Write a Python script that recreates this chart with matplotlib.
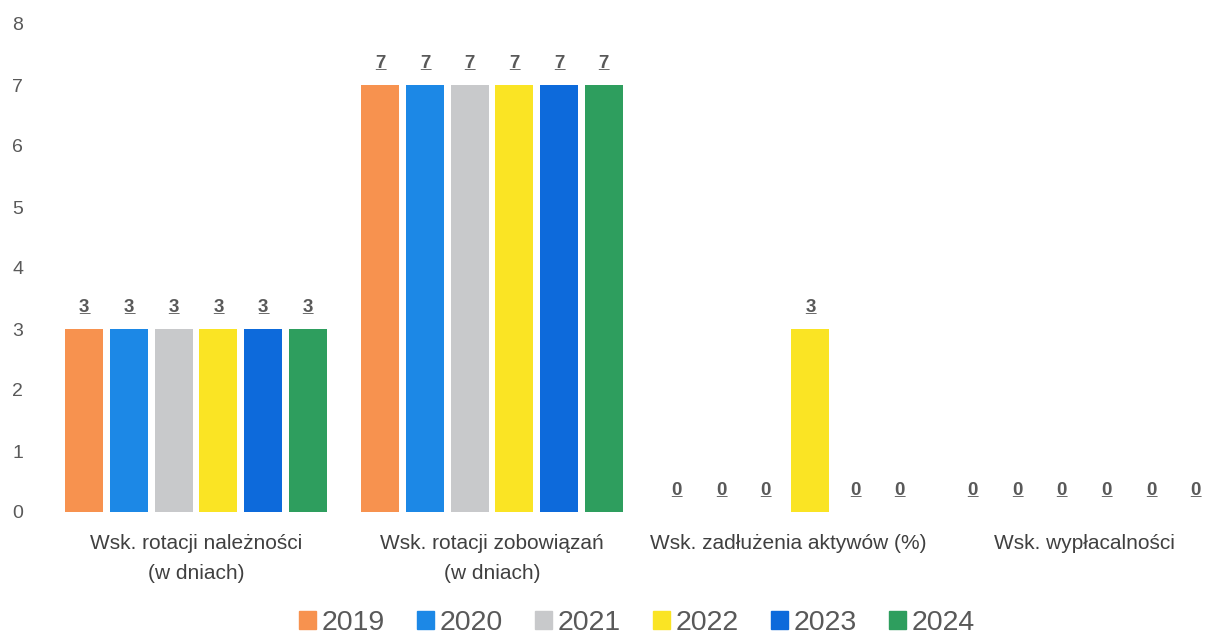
import matplotlib
matplotlib.use("Agg")
import matplotlib.pyplot as plt
import numpy as np
from matplotlib.patches import Patch

plt.rcParams['font.family'] = ['Liberation Sans', 'DejaVu Sans']

categories = ["Wsk. rotacji należności\n(w dniach)",
              "Wsk. rotacji zobowiązań\n(w dniach)",
              "Wsk. zadłużenia aktywów (%)",
              "Wsk. wypłacalności"]
years = ["2019", "2020", "2021", "2022", "2023", "2024"]
values_2019 = [3, 7, 0, 0]
values_2020 = [3, 7, 0, 0]
values_2021 = [3, 7, 0, 0]
values_2022 = [3, 7, 3, 0]
values_2023 = [3, 7, 0, 0]
values_2024 = [3, 7, 0, 0]
series = [values_2019, values_2020, values_2021, values_2022, values_2023, values_2024]
colors = ['#F7924F', '#1C88E6', '#C8C9CB', '#FAE424', '#0D6ADB', '#2E9E5E']
text_grey = '#595959'

fig = plt.figure(figsize=(12.08, 6.38), dpi=100)
ax = fig.add_axes([40/1208, 1-512/638, 1-40/1208, (512-24)/638])

x = np.arange(len(categories))
slot = 0.151
width = 0.128
for i, vals in enumerate(series):
    pos = x + (i - 2.5)*slot
    ax.bar(pos, vals, width, color=colors[i], zorder=2)
    for px, v in zip(pos, vals):
        # value label, underlined like the original
        ax.annotate(str(v), (px, v), xytext=(0, 12), textcoords='offset points',
                    ha='center', va='baseline', fontsize=13.5, fontweight='bold',
                    color=text_grey)
        ax.annotate('_', (px, v), xytext=(0, 12), textcoords='offset points',
                    ha='center', va='baseline', fontsize=13.5, fontweight='bold',
                    color=text_grey)

ax.set_ylim(0, 8)
ax.set_xlim((40-196)/296, (1208-196)/296)
ax.set_yticks(range(0, 9))
ax.tick_params(axis='y', length=0, pad=12, labelsize=14, labelcolor=text_grey)
ax.set_xticks(x)
ax.set_xticklabels(categories, fontsize=15, color='#404040', linespacing=1.75)
ax.tick_params(axis='x', length=0, pad=16)
for s in ax.spines.values():
    s.set_visible(False)

handles = [Patch(color=c) for c in colors]
fig.legend(handles, years, loc='center', bbox_to_anchor=(637/1208, 1-623/638),
           ncol=6, frameon=False, fontsize=20.5, handlelength=0.6, handleheight=0.6,
           handletextpad=0.2, columnspacing=1.12, labelcolor=text_grey)

fig.savefig("out.png", dpi=100)
